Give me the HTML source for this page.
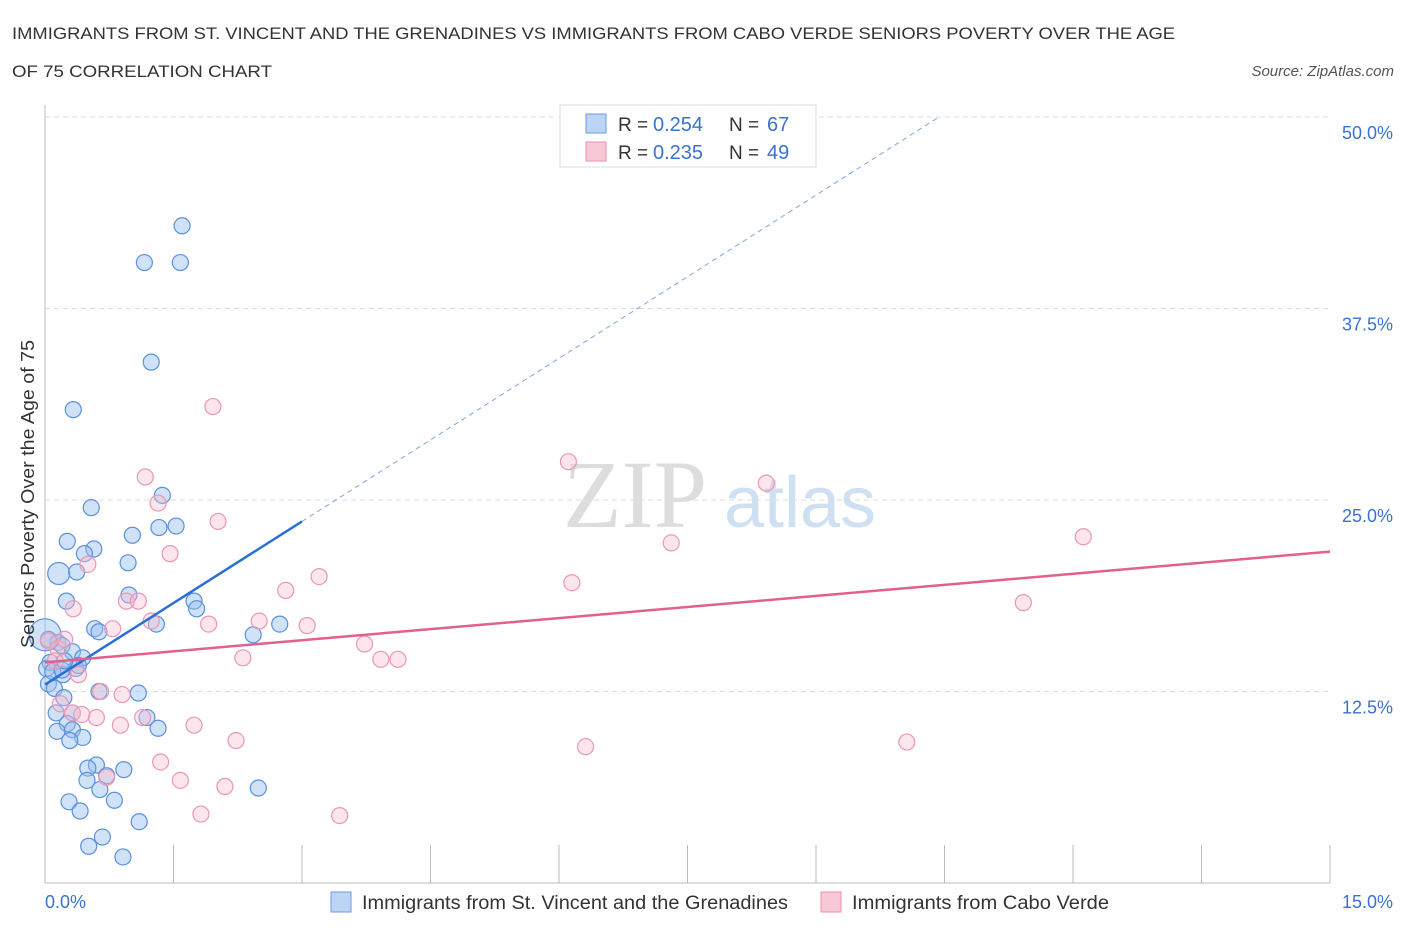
<!DOCTYPE html>
<html><head><meta charset="utf-8"><style>
body{margin:0;background:#fff;font-family:"Liberation Sans",sans-serif;}
svg text{font-family:"Liberation Sans",sans-serif;}
</style></head><body>
<svg id="chart" width="1406" height="930" xmlns="http://www.w3.org/2000/svg">
<text x="12" y="39" font-size="17" fill="#333" textLength="1163" lengthAdjust="spacingAndGlyphs">IMMIGRANTS FROM ST. VINCENT AND THE GRENADINES VS IMMIGRANTS FROM CABO VERDE SENIORS POVERTY OVER THE AGE</text>
<text x="12" y="77" font-size="17" fill="#333" textLength="260" lengthAdjust="spacingAndGlyphs">OF 75 CORRELATION CHART</text>
<text x="1394" y="76" font-size="15" fill="#555" font-style="italic" text-anchor="end">Source: ZipAtlas.com</text>
<text x="635" y="527" font-size="96" fill="#ddd" text-anchor="middle" style="font-family:'Liberation Serif',serif">ZIP</text>
<text x="800" y="527" font-size="72" fill="#cfe0f3" text-anchor="middle">atlas</text>
<g id="grid"></g>
<g id="axes"></g>
<g id="marks"></g>
<text transform="translate(34,494) rotate(-90)" font-size="18" fill="#333" text-anchor="middle" textLength="308" lengthAdjust="spacingAndGlyphs">Seniors Poverty Over the Age of 75</text>
<g>
<rect x="560" y="105" width="256" height="62" fill="#fff" stroke="#ddd"/>
<rect x="586" y="114" width="20" height="19" fill="#bcd5f5" stroke="#6a9be0"/>
<text x="618" y="131" font-size="19" fill="#333">R =</text>
<text x="653" y="131" font-size="20" fill="#3b72d0">0.254</text>
<text x="729" y="131" font-size="19" fill="#333">N =</text>
<text x="767" y="131" font-size="20" fill="#3b72d0">67</text>
<rect x="586" y="142" width="20" height="19" fill="#f8c8d6" stroke="#e890ab"/>
<text x="618" y="159" font-size="19" fill="#333">R =</text>
<text x="653" y="159" font-size="20" fill="#3b72d0">0.235</text>
<text x="729" y="159" font-size="19" fill="#333">N =</text>
<text x="767" y="159" font-size="20" fill="#3b72d0">49</text>
</g>
<g>
<rect x="331" y="892" width="20" height="20" fill="#bcd5f5" stroke="#6a9be0"/>
<text x="362" y="909" font-size="19" fill="#333" textLength="426" lengthAdjust="spacingAndGlyphs">Immigrants from St. Vincent and the Grenadines</text>
<rect x="821" y="892" width="20" height="20" fill="#f8c8d6" stroke="#e890ab"/>
<text x="852" y="909" font-size="19" fill="#333" textLength="257" lengthAdjust="spacingAndGlyphs">Immigrants from Cabo Verde</text>
</g>
</svg>
<script>
const xTicks=[0,1.5,3,4.5,6,7.5,9,10.5,12,13.5,15];
const yTicks=[12.5,25,37.5,50];
const yTickLabels=["12.5%","25.0%","37.5%","50.0%"];
const blueX=[1.60,1.16,1.58,1.24,0.33,1.37,0.54,1.02,1.33,1.53,0.26,0.57,0.46,0.97,0.16,0.37,0.98,0.25,1.74,1.77,1.30,0.58,0.63,2.43,2.74,0.04,0.15,0.20,0.32,0.44,0.06,0.36,0.21,0.04,0.11,0.22,0.63,1.09,0.13,0.32,0.26,1.19,1.32,0.14,0.32,0.44,0.29,0.60,0.50,0.92,0.72,0.49,0.64,2.49,0.81,0.28,0.41,1.10,0.67,0.51,0.91,0.0,0.02,0.09,0.20,0.39,0.23];
const blueY=[42.9,40.5,40.5,34.0,30.9,25.3,24.5,22.7,23.2,23.3,22.3,21.8,21.5,20.9,20.2,20.3,18.8,18.4,18.4,17.9,16.9,16.6,16.4,16.2,16.9,15.9,15.7,15.5,15.1,14.7,14.4,14.0,13.6,13.0,12.7,12.1,12.5,12.4,11.1,11.1,10.4,10.8,10.1,9.9,10.0,9.5,9.3,7.7,7.5,7.4,7.0,6.7,6.1,6.2,5.4,5.3,4.7,4.0,3.0,2.4,1.7,16.2,14.0,13.8,13.9,14.2,14.5];
const blueR=[8,8,8,8,8,8,8,8,8,8,8,8,8,8,11,8,8,8,8,8,8,8,8,8,8,8,8,8,8,8,8,8,8,8,8,8,8,8,8,8,8,8,8,8,8,8,8,8,8,8,8,8,8,8,8,8,8,8,8,8,8,16,8,8,8,8,8];
const pinkX=[1.96,1.17,6.11,8.42,1.32,2.02,12.12,7.31,1.46,0.50,3.20,6.15,0.33,2.81,0.95,1.09,11.42,1.24,2.50,1.91,3.06,0.79,3.73,2.31,3.92,4.12,0.04,0.15,0.39,0.65,0.60,0.88,1.14,1.74,2.23,6.31,10.06,1.35,1.58,2.10,0.72,1.82,3.44,0.32,0.43,0.12,0.23,0.90,0.18];
const pinkY=[31.1,26.5,27.5,26.1,24.8,23.6,22.6,22.2,21.5,20.8,20.0,19.6,17.9,19.1,18.4,18.4,18.3,17.1,17.1,16.9,16.8,16.6,15.6,14.7,14.6,14.6,15.8,15.3,13.6,12.5,10.8,10.3,10.8,10.3,9.3,8.9,9.2,7.9,6.7,6.3,6.9,4.5,4.4,11.1,11.0,14.5,15.9,12.3,11.7];
const X=v=>45+v*85.667, Y=v=>883-v*15.32;
const NS="http://www.w3.org/2000/svg";
function mk(tag,attrs,parent){const e=document.createElementNS(NS,tag);for(const k in attrs)e.setAttribute(k,attrs[k]);parent.appendChild(e);return e;}
const grid=document.getElementById('grid'),axes=document.getElementById('axes'),marks=document.getElementById('marks');
yTicks.forEach((t,i)=>{
 const l=mk('line',{x1:45,x2:1330,y1:Y(t),y2:Y(t),stroke:'#ddd','stroke-dasharray':'5,4'},grid);
 
 
 const tx=mk('text',{x:1393,y:Y(t)+22,'font-size':18,fill:'#3b72d0','text-anchor':'end'},axes);
 tx.textContent=yTickLabels[i];
 
 
});
const ax=mk('line',{x1:45,x2:1330,y1:883,y2:883,stroke:'#bbb'},axes);


const ay=mk('line',{x1:45,x2:45,y1:105,y2:883,stroke:'#bbb'},axes);


xTicks.forEach(t=>{
 const l=mk('line',{x1:X(t),x2:X(t),y1:845,y2:883,stroke:'#bbb'},axes);
 
 
});
const xl=mk('text',{x:45,y:908,'font-size':18,fill:'#3b72d0'},axes);xl.textContent='0.0%';


const xr=mk('text',{x:1393,y:908,'font-size':18,fill:'#3b72d0','text-anchor':'end'},axes);xr.textContent='15.0%';


blueX.forEach((x,i)=>{
 const c=mk('circle',{cx:X(x),cy:Y(blueY[i]),r:blueR[i],fill:'rgba(150,190,240,0.45)',stroke:'#5a90dc','stroke-width':1.2},marks);
 
 
});
pinkX.forEach((x,i)=>{
 const c=mk('circle',{cx:X(x),cy:Y(pinkY[i]),r:8,fill:'rgba(248,190,208,0.4)',stroke:'#ea98b2','stroke-width':1.2},marks);
 
 
});
const bInt=12.95, bSlope=3.55, pInt=14.4, pSlope=0.482;
const b1=mk('line',{x1:X(0),y1:Y(bInt),x2:X(3),y2:Y(bInt+bSlope*3),stroke:'#2a6fd6','stroke-width':2.5},marks);


const b2=mk('line',{x1:X(3),y1:Y(bInt+bSlope*3),x2:X((50-bInt)/bSlope),y2:Y(50),stroke:'#7aa6e6','stroke-width':1,'stroke-dasharray':'5,4'},marks);


const p1=mk('line',{x1:X(0),y1:Y(pInt),x2:X(15),y2:Y(pInt+pSlope*15),stroke:'#e4608c','stroke-width':2.5},marks);


</script>
</body></html>
